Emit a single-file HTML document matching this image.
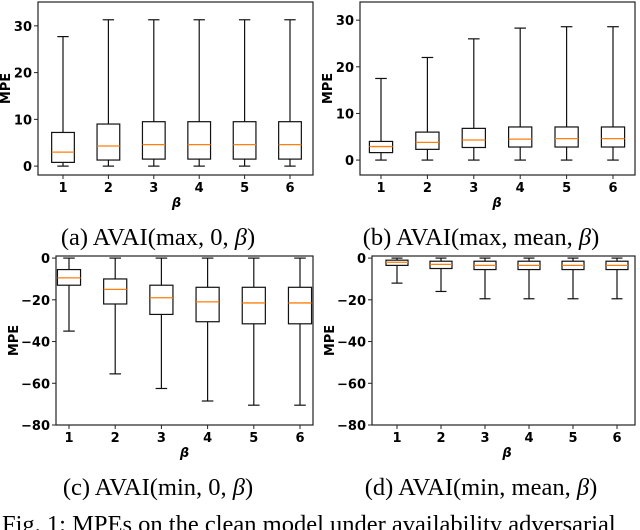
<!DOCTYPE html>
<html><head><meta charset="utf-8"><style>
body{margin:0;background:#fff;width:640px;height:530px;overflow:hidden}
svg{display:block}
.t{font-family:"DejaVu Sans",sans-serif;font-weight:bold;font-size:13px}
.cap{font-family:"Liberation Serif",serif;font-size:24.5px}
</style></head><body>
<svg id="s" width="640" height="530"></svg>
<script>
const categories=[1,2,3,4,5,6];
// each: [whisker-lo, q1, median, q3, whisker-hi]
const seriesA=[[0,0.8,3,7.2,27.7],[0,1.3,4.3,9,31.3],[0,1.5,4.6,9.5,31.3],[0,1.5,4.6,9.5,31.3],[0,1.5,4.6,9.5,31.3],[0,1.5,4.6,9.5,31.3]];
const seriesB=[[0,1.6,2.9,4,17.5],[0,2.3,3.8,6,22],[0,2.7,4.3,6.8,26],[0,2.8,4.5,7.1,28.3],[0,2.8,4.6,7.1,28.6],[0,2.8,4.6,7.1,28.6]];
const seriesC=[[-35,-13,-9.5,-5.5,0],[-55.5,-22,-15,-10,0],[-62.5,-27,-19,-13,0],[-68.5,-30.5,-21,-14,0],[-70.5,-31.5,-21.5,-14,0],[-70.5,-31.5,-21.5,-14,0]];
const seriesD=[[-12,-3.5,-2,-1,0],[-16,-5,-3,-1.5,0],[-19.5,-5.5,-3.5,-1.5,0],[-19.5,-5.5,-3.5,-1.5,0],[-19.5,-5.5,-3.5,-1.5,0],[-19.5,-5.5,-3.5,-1.5,0]];
const ticksPos=[0,10,20,30];
const ticksNeg=[0,-20,-40,-60,-80];
const captions=["(a) AVAI(max, 0, ","(b) AVAI(max, mean, ","(c) AVAI(min, 0, ","(d) AVAI(min, mean, "];

const S=document.getElementById('s');
const NS='http://www.w3.org/2000/svg';
function mk(tag,at,txt){const e=document.createElementNS(NS,tag);for(const k in at)e.setAttribute(k,at[k]);if(txt!==undefined)e.textContent=txt;S.appendChild(e);return e;}

function panel(id,L,R,T,B,ymin,ymax,ticks,data,x1,x6,capX,capY,cap){
  const y=v=>B-(v-ymin)/(ymax-ymin)*(B-T);
  const sp=(x6-x1)/5;
  const x=c=>x1+(c-1)*sp;
  const hw=sp*0.25, cw=sp*0.125;
  const ax=mk('rect',{x:L,y:T,width:R-L,height:B-T,fill:'none',stroke:'#222','stroke-width':1.2});
  
  
  ticks.forEach(v=>{
    const l=mk('line',{x1:L-4,x2:L,y1:y(v),y2:y(v),stroke:'#222'});
    
    
    const t=mk('text',{x:L-6,y:y(v)+5,'text-anchor':'end',class:'t'},v<0?'\u2212'+(-v):String(v));
    
    
  });
  categories.forEach((c,i)=>{
    const cx=x(c);
    const l=mk('line',{x1:cx,x2:cx,y1:B,y2:B+4,stroke:'#222'});
    
    
    const t=mk('text',{x:cx,y:B+17,'text-anchor':'middle',class:'t'},String(c));
    
    
    const d=data[i];
    const g=document.createElementNS(NS,'g');S.appendChild(g);
    
    
    const add=(tag,at)=>{const e=document.createElementNS(NS,tag);for(const k in at)e.setAttribute(k,at[k]);g.appendChild(e);};
    const sw=1.2;
    add('line',{x1:cx,x2:cx,y1:y(d[0]),y2:y(d[1]),stroke:'#111','stroke-width':sw});
    add('line',{x1:cx,x2:cx,y1:y(d[3]),y2:y(d[4]),stroke:'#111','stroke-width':sw});
    add('line',{x1:cx-cw,x2:cx+cw,y1:y(d[0]),y2:y(d[0]),stroke:'#111','stroke-width':sw});
    add('line',{x1:cx-cw,x2:cx+cw,y1:y(d[4]),y2:y(d[4]),stroke:'#111','stroke-width':sw});
    add('rect',{x:cx-hw,y:y(d[3]),width:2*hw,height:Math.abs(y(d[1])-y(d[3])),fill:'none',stroke:'#111','stroke-width':sw});
    add('line',{x1:cx-hw,x2:cx+hw,y1:y(d[2]),y2:y(d[2]),stroke:'#ff7f0e','stroke-width':1.3});
  });
  const yl=mk('text',{x:0,y:0,'text-anchor':'middle',class:'t',transform:`translate(${L-(ticks[ticks.length-1]<0?38:28)},${(T+B)/2}) rotate(-90)`},'MPE');
  
  
  const xl=mk('text',{x:(x1+x6)/2,y:B+32,'text-anchor':'middle',class:'t','font-style':'italic'},'β');
  
  
  const c=mk('text',{x:capX,y:capY,'text-anchor':'middle',class:'cap'});
  
  
  const a=document.createElementNS(NS,'tspan');a.textContent=cap;c.appendChild(a);
  const b=document.createElementNS(NS,'tspan');b.setAttribute('font-style','italic');b.textContent='β';c.appendChild(b);
  const e=document.createElementNS(NS,'tspan');e.textContent=')';c.appendChild(e);
}
panel('panel-a',38,313,2,175,-1.9,35.1,ticksPos,seriesA,63,290,158,245,captions[0]);
panel('panel-b',360,635,2,175,-3.2,33.9,ticksPos,seriesB,381,613,481,245,captions[1]);
panel('panel-c',56,313,256,425,-80,1,ticksNeg,seriesC,69,300,158,495,captions[2]);
panel('panel-d',372,635,256,425,-80,1,ticksNeg,seriesD,397,617,481,495,captions[3]);
const f=mk('text',{x:2,y:532,class:'cap','font-size':'26'},'Fig. 1: MPEs on the clean model under availability adversarial');


</script>
</body></html>
